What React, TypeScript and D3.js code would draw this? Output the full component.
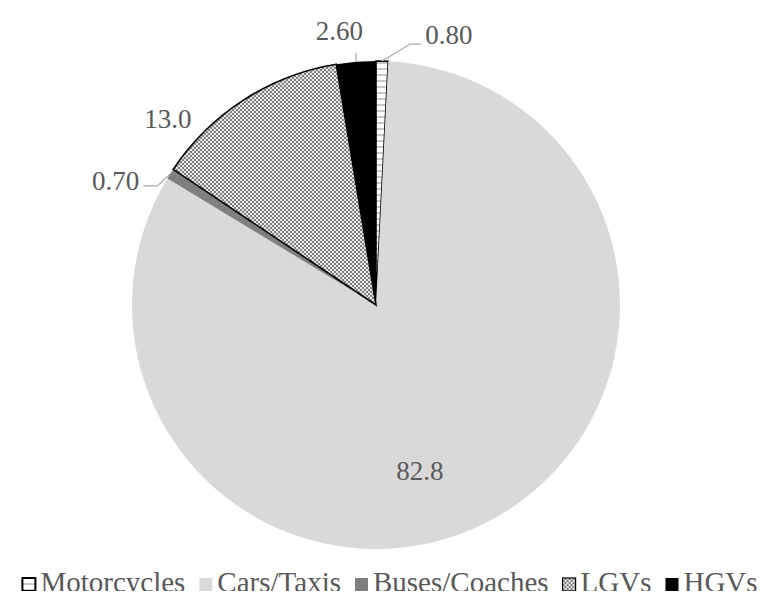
import { useEffect, useRef } from "react";
import * as d3 from "d3";

const categories = ["Motorcycles", "Cars/Taxis", "Buses/Coaches", "LGVs", "HGVs"];
const shares = [0.8, 82.8, 0.7, 13.0, 2.6];
const valueLabels = ["0.80", "82.8", "0.70", "13.0", "2.60"];

const W = 779;
const H = 599;
const FONT = "'Liberation Serif', 'Times New Roman', serif";
const TEXT = "#595959";

// fill per slice: patterns are defined in <defs>
const fills = ["url(#stripes)", "#d9d9d9", "#7f7f7f", "url(#checks)", "#000000"];
const strokes = ["#000", "none", "none", "#000", "none"];

export default function App() {
  const ref = useRef<SVGSVGElement | null>(null);

  useEffect(() => {
    const svg = d3.select(ref.current);
    svg.selectAll("*").remove();

    const defs = svg.append("defs");
    const st = defs
      .append("pattern")
      .attr("id", "stripes")
      .attr("patternUnits", "userSpaceOnUse")
      .attr("width", 6)
      .attr("height", 6);
    st.append("rect").attr("width", 6).attr("height", 6).attr("fill", "#fff");
    st.append("rect").attr("y", 3).attr("width", 6).attr("height", 2).attr("fill", "#c8c8c8");

    const ck = defs
      .append("pattern")
      .attr("id", "checks")
      .attr("patternUnits", "userSpaceOnUse")
      .attr("width", 4)
      .attr("height", 4);
    ck.append("rect").attr("width", 4).attr("height", 4).attr("fill", "#e6e6e6");
    ck.append("rect").attr("width", 2).attr("height", 2).attr("fill", "#808080");
    ck.append("rect").attr("x", 2).attr("y", 2).attr("width", 2).attr("height", 2).attr("fill", "#808080");

    const cx = 376;
    const cy = 305;
    const r = 244;

    const pie = d3
      .pie<number>()
      .sort(null)
      .value((d) => d);
    const arcs = pie(shares);
    const arc = d3.arc<d3.PieArcDatum<number>>().innerRadius(0).outerRadius(r);

    const g = svg.append("g").attr("transform", `translate(${cx},${cy})`);
    g.selectAll("path")
      .data(arcs)
      .join("path")
      .attr("d", arc)
      .attr("fill", (_, i) => fills[i])
      .attr("stroke", (_, i) => strokes[i])
      .attr("stroke-width", 1.6)
      .attr("stroke-linejoin", "miter");

    // point on rim at the slice's mid angle
    const rim = (a: d3.PieArcDatum<number>, rr = r) => {
      const m = (a.startAngle + a.endAngle) / 2;
      return [Math.sin(m) * rr, -Math.cos(m) * rr];
    };

    const lbl = g.append("g").attr("font-family", FONT).attr("font-size", 27).attr("fill", TEXT);
    const lead = g.append("g").attr("fill", "none").attr("stroke", "#a6a6a6").attr("stroke-width", 1.2);

    // Motorcycles: leader up-right
    {
      const [x, y] = rim(arcs[0]);
      lead.append("polyline").attr("points", `${x},${y} ${x + 28},${y - 17} ${x + 39},${y - 17}`);
      lbl.append("text").attr("x", x + 43).attr("y", y - 17).text(valueLabels[0]);
    }
    // Cars/Taxis: inside
    {
      const [x, y] = rim(arcs[1], r * 0.7);
      lbl.append("text").attr("x", x - 36).attr("y", y + 24).attr("text-anchor", "middle").text(valueLabels[1]);
    }
    // Buses/Coaches: leader down-left
    {
      const [x, y] = rim(arcs[2]);
      lead.append("polyline").attr("points", `${x},${y} ${x - 13},${y + 12} ${x - 27},${y + 12}`);
      lbl.append("text").attr("x", x - 31).attr("y", y + 16).attr("text-anchor", "end").text(valueLabels[2]);
    }
    // LGVs: outside, no leader
    {
      const [x, y] = rim(arcs[3]);
      lbl.append("text").attr("x", x - 76).attr("y", y + 28).attr("text-anchor", "middle").text(valueLabels[3]);
    }
    // HGVs: short vertical leader
    {
      const [x, y] = rim(arcs[4]);
      lead.append("line").attr("x1", x).attr("y1", y).attr("x2", x).attr("y2", y - 9);
      lbl.append("text").attr("x", x + 7).attr("y", y - 22).attr("text-anchor", "end").text(valueLabels[4]);
    }

    // legend
    const leg = svg.append("g").attr("font-family", FONT).attr("font-size", 29).attr("fill", TEXT);
    const box = 13;
    const items = categories.map((c, i) => {
      const it = leg.append("g");
      it.append("rect")
        .attr("y", -14)
        .attr("width", box)
        .attr("height", box)
        .attr("fill", fills[i])
        .attr("stroke", i === 0 || i === 3 ? "#000" : "none")
        .attr("stroke-width", i === 0 ? 2 : 1.2);
      const t = it.append("text").attr("x", box + 5).attr("y", 0).text(c);
      const w = (t.node() as SVGTextElement).getComputedTextLength();
      return { it, w: box + 5 + w };
    });
    const gap = 14;
    const total = d3.sum(items, (d) => d.w) + gap * (items.length - 1);
    let x = 390 - total / 2;
    items.forEach((d) => {
      d.it.attr("transform", `translate(${x},592)`);
      x += d.w + gap;
    });
  }, []);

  return (
    <div style={{ margin: -8 }}>
      <svg ref={ref} width={W} height={H} style={{ display: "block", background: "#fff" }} />
    </div>
  );
}
